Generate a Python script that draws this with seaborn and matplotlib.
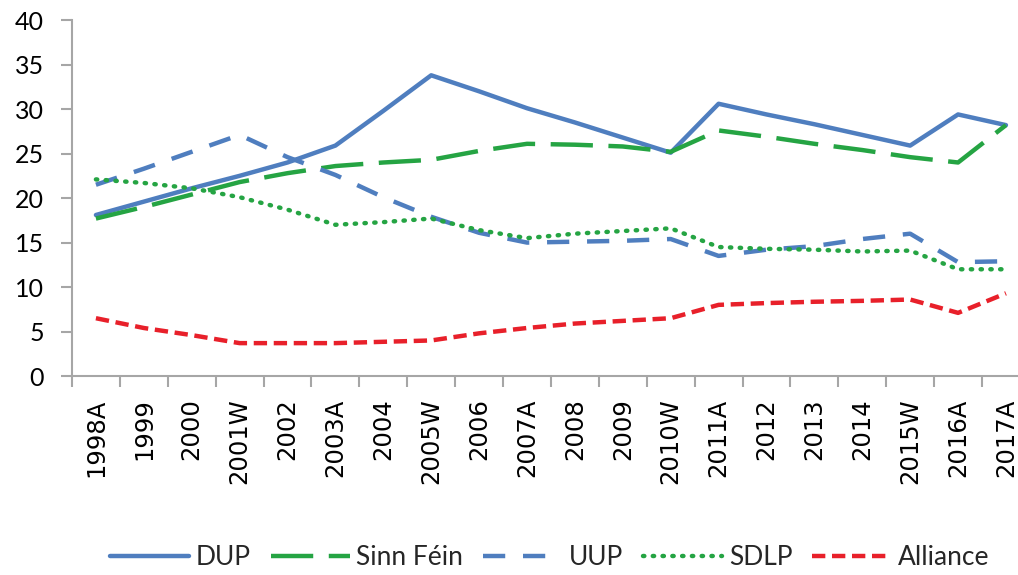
import pandas as pd
import matplotlib
matplotlib.use("Agg")
import matplotlib.pyplot as plt
import seaborn as sns

sns.set_style("white")
plt.rcParams['font.family'] = ['Lato', 'DejaVu Sans']

# Dados (percentual de votos)
anos = ["1998A", "1999", "2000", "2001W", "2002", "2003A", "2004", "2005W", "2006", "2007A",
        "2008", "2009", "2010W", "2011A", "2012", "2013", "2014", "2015W", "2016A", "2017A"]

dup = [18.1, 19.6, 21.1, 22.5, 24.0, 25.9, 29.8, 33.8, 32.0, 30.1,
       28.5, 26.8, 25.1, 30.6, 29.4, 28.3, 27.1, 25.9, 29.4, 28.2]
sinn_fein = [17.7, 19.0, 20.4, 21.8, 22.8, 23.6, 24.0, 24.3, 25.3, 26.1,
             26.0, 25.8, 25.2, 27.6, 26.9, 26.1, 25.4, 24.6, 24.0, 28.2]
uup = [21.5, 23.3, 25.2, 27.1, 24.6, 22.6, 20.1, 17.9, 16.1, 15.0,
       15.1, 15.2, 15.4, 13.5, 14.2, 14.6, 15.4, 16.0, 12.8, 12.9]
sdlp = [22.1, 21.7, 21.1, 20.1, 18.7, 17.0, 17.3, 17.7, 16.4, 15.5,
        16.0, 16.3, 16.6, 14.5, 14.3, 14.2, 14.0, 14.1, 12.0, 12.0]
alliance = [6.5, 5.4, 4.6, 3.7, 3.7, 3.7, 3.85, 4.0, 4.8, 5.4,
            5.9, 6.2, 6.5, 8.0, 8.2, 8.35, 8.45, 8.6, 7.1, 9.3]

partidos = ["DUP", "Sinn Féin", "UUP", "SDLP", "Alliance"]
series = [dup, sinn_fein, uup, sdlp, alliance]
cores = ["#4F7EBF", "#25A443", "#4F7EBF", "#25A443", "#E8202A"]
estilos = ["-", (0, (9.5, 3.5)), (0, (5, 4)), (0, (0.3, 1.9)), (0, (3, 1.5))]

fig = plt.figure(figsize=(10.18, 5.75), dpi=100)
ax = fig.add_axes([0.0707, 0.346, 0.941, 0.619])

for nome, valores, cor, estilo in zip(partidos, series, cores, estilos):
    df = pd.DataFrame({"ano": anos, "voto": valores})
    sns.lineplot(data=df, x="ano", y="voto", ax=ax, color=cor, label=nome,
                 linestyle=estilo, linewidth=3.2,
                 dash_capstyle="round" if nome == "SDLP" else "butt")

ax.set_xlim(-0.5, len(anos) - 0.5)
ax.set_ylim(0, 40)
ax.set_yticks(range(0, 41, 5))
ax.set_xlabel("")
ax.set_ylabel("")

# rotulos no centro, marcas entre categorias
ax.set_xticks(range(len(anos)))
ax.set_xticklabels(anos, rotation=90, fontsize=17.5, family="DejaVu Sans")
ax.set_xticks([i - 0.5 for i in range(len(anos) + 1)], minor=True)
ax.tick_params(axis="x", which="major", length=0, pad=16)
ax.tick_params(axis="x", which="minor", length=8, width=1.5, color="#a6a6a6", direction="out")
ax.tick_params(axis="y", length=8, width=1.5, color="#a6a6a6", direction="out",
               labelsize=18, pad=12)
ax.tick_params(axis="both", labelcolor="black")
ax.xaxis.set_ticks_position("bottom")
ax.yaxis.set_ticks_position("left")

for s in ["top", "right"]:
    ax.spines[s].set_visible(False)
for s in ["left", "bottom"]:
    ax.spines[s].set_color("#a6a6a6")
    ax.spines[s].set_linewidth(1.5)

leg = ax.legend(loc="lower center", bbox_to_anchor=(0.54, -0.014), bbox_transform=fig.transFigure,
                ncol=5, frameon=False, fontsize=19, handlelength=3.0,
                handletextpad=0.25, columnspacing=0.75, borderaxespad=0.1)

fig.savefig("out.png", dpi=100)
